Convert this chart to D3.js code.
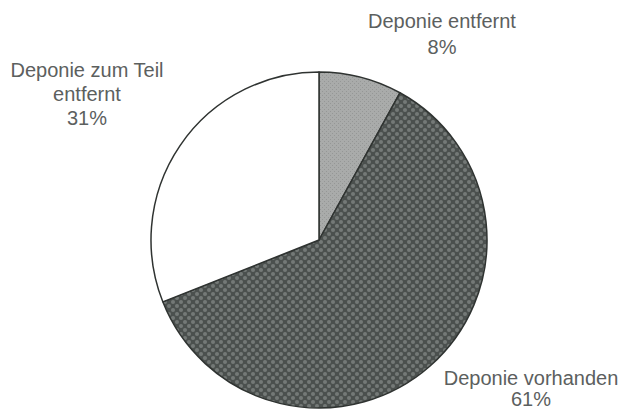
<!DOCTYPE html>
<html>
<head>
<meta charset="utf-8">
<script src="https://cdn.jsdelivr.net/npm/d3@7"></script>
<style>
  body { margin: 0; background: #fff; }
  svg text { font-family: "Liberation Sans", Arial, sans-serif; fill: #5c605e; }
</style>
</head>
<body>
<div id="chart"></div>
<script>
const categories = ["Deponie entfernt", "Deponie vorhanden", "Deponie zum Teil entfernt"];
const values = [8, 61, 31];
const labelLines = [["Deponie entfernt", "8%"], ["Deponie vorhanden", "61%"], ["Deponie zum Teil", "entfernt", "31%"]];

const width = 622, height = 412;
const cx = 319, cy = 240, radius = 168;

let svg = d3.select("#chart").append("svg")
  .attr("width", width)
  .attr("height", height);

let defs = svg.append("defs");
// grey fill with a fine grain
let light = defs.append("pattern")
  .attr("id", "light")
  .attr("width", 4).attr("height", 4)
  .attr("patternUnits", "userSpaceOnUse");
light.append("rect").attr("width", 4).attr("height", 4).attr("fill", "#a9abaa");
light.append("rect").attr("x", 1).attr("y", 1).attr("width", 1).attr("height", 1).attr("fill", "#959796");
light.append("rect").attr("x", 3).attr("y", 3).attr("width", 1).attr("height", 1).attr("fill", "#959796");

// checker pattern for the big slice
let dark = defs.append("pattern")
  .attr("id", "dark")
  .attr("width", 8).attr("height", 8)
  .attr("patternUnits", "userSpaceOnUse");
dark.append("rect").attr("width", 8).attr("height", 8).attr("fill", "#4b504e");
dark.append("circle").attr("cx", 2).attr("cy", 2).attr("r", 2).attr("fill", "#747977");
dark.append("circle").attr("cx", 6).attr("cy", 6).attr("r", 2).attr("fill", "#747977");

const fills = ["url(#light)", "url(#dark)", "#ffffff"];

let pie = d3.pie().sort(null).value(d => d);
let arc = d3.arc().innerRadius(0).outerRadius(radius);

let g = svg.append("g").attr("transform", "translate(" + cx + "," + cy + ")");

g.selectAll("path")
  .data(pie(values))
  .join("path")
  .attr("d", arc)
  .attr("fill", (d, i) => fills[i])
  .attr("stroke", "#2f3331")
  .attr("stroke-width", 1.5)
  .attr("stroke-linejoin", "round");

// label positions: centre x, first baseline, line step
const labelPos = [[442, 28, 26], [531, 385, 21], [87, 77, 24]];

labelLines.forEach(function (lines, i) {
  let t = svg.append("text")
    .attr("text-anchor", "middle")
    .attr("font-size", "20px");
  lines.forEach(function (line, j) {
    t.append("tspan")
      .attr("x", labelPos[i][0])
      .attr("y", labelPos[i][1] + j * labelPos[i][2])
      .text(line);
  });
});
</script>
</body>
</html>
